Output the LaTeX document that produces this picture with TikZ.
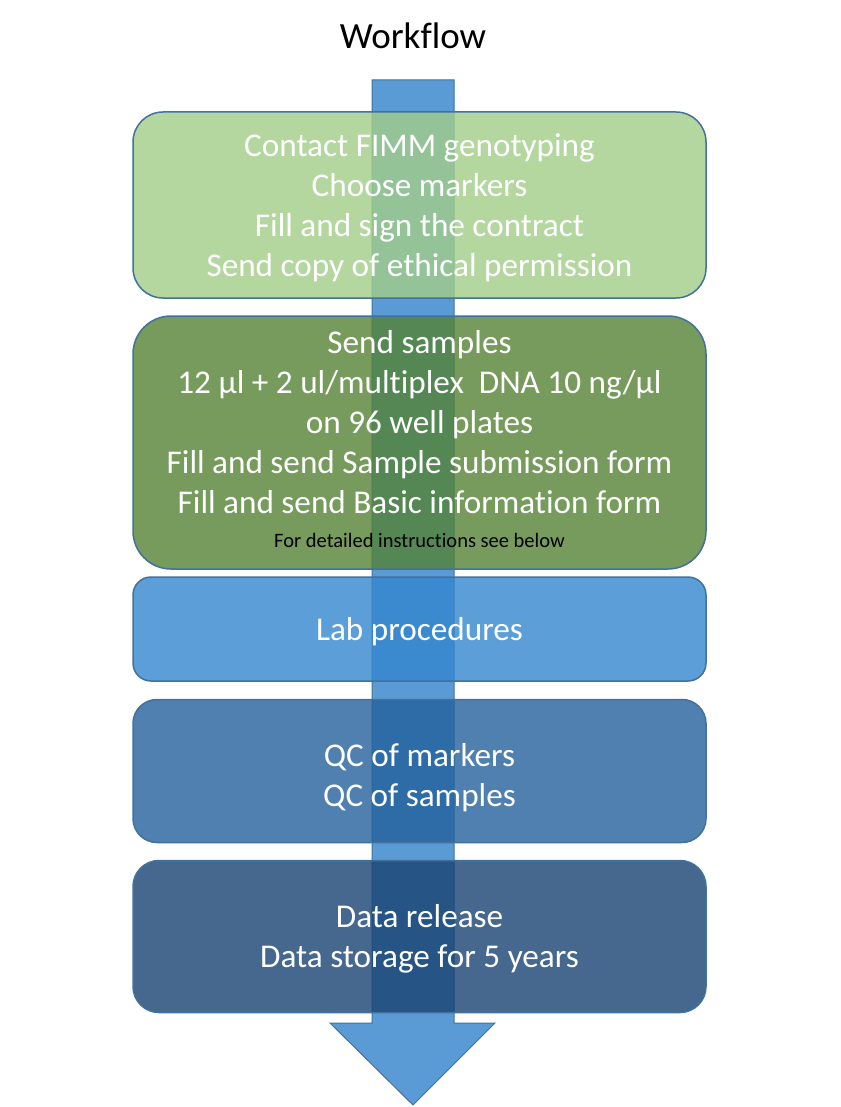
\documentclass[tikz,border=0pt]{standalone}
\usepackage{fontspec}
\setmainfont[Ligatures={NoCommon}]{Carlito}
\usetikzlibrary{positioning}
\definecolor{boxline}{HTML}{41719C}
\definecolor{arrowblue}{HTML}{5B9BD5}
\definecolor{stepA}{RGB}{162,206,136}
\definecolor{stepB}{RGB}{84,130,53}
\definecolor{stepC}{RGB}{52,134,206}
\definecolor{stepD}{RGB}{35,97,156}
\definecolor{stepE}{RGB}{24,67,114}
\newcommand{\upline}[1]{\rule{0pt}{#1}}
\tikzstyle{stepbox} = [draw=boxline, line width=1.5pt, fill opacity=0.8, text opacity=1, text=white, minimum width=573pt, align=center, inner sep=0pt, font=\fontsize{33.2}{40}\selectfont]
\tikzset{
  bigarrow/.style ={draw=boxline, line width=1pt, fill=arrowblue}
}

\begin{document}
\begin{tikzpicture}[x=1pt,y=-1pt]
  \fill[white] (0,0) rectangle (840,1107);
  \useasboundingbox (0,0) rectangle (840,1107);

  \node[font=\fontsize{37}{40}\selectfont] (title) at (413,36) {Workflow};

  % the long arrow behind the steps
  \path[bigarrow] (372,80) -- (454,80) -- (454,1023) -- (495,1023) -- (413,1105) -- (330,1023) -- (372,1023) -- cycle;

  \node[stepbox, fill=stepA, minimum height=186pt, rounded corners=30pt] (contact) at (419.5,205) {\upline{29pt}Contact FIMM genotyping\\Choose markers\\Fill and sign the contract\\Send copy of ethical permission};
  \node[stepbox, fill=stepB, minimum height=253pt, rounded corners=38pt, below=16.5pt of contact] (samples) {Send samples\\12 µl + 2 ul/multiplex\ \ DNA 10 ng/µl\\on 96 well plates\\Fill and send Sample submission form\\Fill and send Basic information form\\[-6pt]{\fontsize{20.5}{24}\selectfont\color{black}For detailed instructions see below\rule[-8pt]{0pt}{8pt}}};
  \node[stepbox, fill=stepC, minimum height=104pt, rounded corners=18pt, below=6.5pt of samples] (lab) {\upline{29pt}Lab procedures};
  \node[stepbox, fill=stepD, minimum height=143pt, rounded corners=24pt, below=17pt of lab] (qc) {\upline{37pt}QC of markers\\QC of samples};
  \node[stepbox, fill=stepE, minimum height=152pt, rounded corners=26pt, below=16.5pt of qc] (release) {\upline{28pt}Data release\\Data storage for 5 years};

\end{tikzpicture}
\end{document}
